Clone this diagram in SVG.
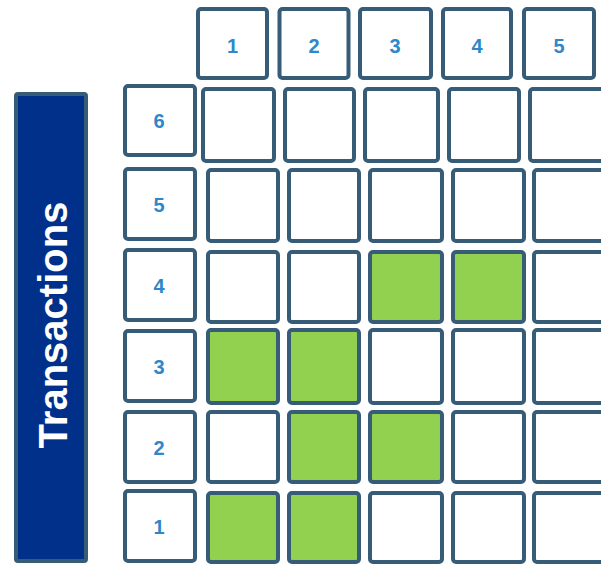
<svg xmlns="http://www.w3.org/2000/svg" width="601" height="564" viewBox="0 0 601 564">
<style>
.box{fill:#ffffff;stroke:#365C78;stroke-width:4}
.on{fill:#92D050;stroke:#365C78;stroke-width:4}
.num{font-family:"Liberation Sans",Arial,sans-serif;font-weight:bold;font-size:20px;fill:#2F87CA;text-anchor:middle}
.title{font-family:"Liberation Sans",Arial,sans-serif;font-weight:bold;font-size:40px;fill:#ffffff;text-anchor:middle}
</style>
<rect width="601" height="564" fill="#ffffff"/>
<g id="axis-bar">
<rect x="16" y="94" width="70" height="467" rx="2" fill="#00308A" stroke="#365C78" stroke-width="4"/>
<text class="title" transform="translate(67,325) rotate(-90)">Transactions</text>
</g>
<g id="header">
<g id="col-1"><rect class="box" x="198" y="9" width="69" height="69" rx="3"/><text class="num" x="232.5" y="53">1</text></g>
<g id="col-2"><rect class="box" x="279.5" y="9" width="69" height="69" rx="3"/><text class="num" x="314" y="53">2</text></g>
<g id="col-3"><rect class="box" x="360" y="9" width="71" height="69" rx="3"/><text class="num" x="395" y="53">3</text></g>
<g id="col-4"><rect class="box" x="443" y="9" width="68" height="69" rx="3"/><text class="num" x="477" y="53">4</text></g>
<g id="col-5"><rect class="box" x="524" y="9" width="70" height="69" rx="3"/><text class="num" x="559" y="53">5</text></g>
</g>
<g id="row-labels">
<g id="row-6"><rect class="box" x="125" y="86" width="70" height="69" rx="3"/><text class="num" x="159" y="128">6</text></g>
<g id="row-5"><rect class="box" x="125" y="169" width="70" height="70" rx="3"/><text class="num" x="159" y="212">5</text></g>
<g id="row-4"><rect class="box" x="125" y="250" width="70" height="70" rx="3"/><text class="num" x="159" y="293">4</text></g>
<g id="row-3"><rect class="box" x="125" y="331" width="70" height="70" rx="3"/><text class="num" x="159" y="374">3</text></g>
<g id="row-2"><rect class="box" x="125" y="412" width="70" height="70" rx="3"/><text class="num" x="159" y="455">2</text></g>
<g id="row-1"><rect class="box" x="125" y="491" width="70" height="70" rx="3"/><text class="num" x="159" y="534">1</text></g>
</g>
<g id="grid">
<g id="r6">
<rect class="box" x="203" y="89" width="71" height="72" rx="3"/>
<rect class="box" x="285" y="89" width="69" height="72" rx="3"/>
<rect class="box" x="365" y="89" width="73" height="72" rx="3"/>
<rect class="box" x="449" y="89" width="70" height="72" rx="3"/>
<rect class="box" x="530" y="89" width="75" height="72" rx="3"/>
</g>
<g id="r5">
<rect class="box" x="208" y="170" width="70" height="71" rx="3"/>
<rect class="box" x="289" y="170" width="70" height="71" rx="3"/>
<rect class="box" x="370" y="170" width="72" height="71" rx="3"/>
<rect class="box" x="453" y="170" width="71" height="71" rx="3"/>
<rect class="box" x="534" y="170" width="75" height="71" rx="3"/>
</g>
<g id="r4">
<rect class="box" x="208" y="252" width="70" height="70" rx="3"/>
<rect class="box" x="289" y="252" width="70" height="70" rx="3"/>
<rect class="on" x="370" y="252" width="72" height="70" rx="3"/>
<rect class="on" x="453" y="252" width="71" height="70" rx="3"/>
<rect class="box" x="534" y="252" width="75" height="70" rx="3"/>
</g>
<g id="r3">
<rect class="on" x="208" y="330" width="70" height="73" rx="3"/>
<rect class="on" x="289" y="330" width="70" height="73" rx="3"/>
<rect class="box" x="370" y="330" width="72" height="73" rx="3"/>
<rect class="box" x="453" y="330" width="71" height="73" rx="3"/>
<rect class="box" x="534" y="330" width="75" height="73" rx="3"/>
</g>
<g id="r2">
<rect class="box" x="208" y="412" width="70" height="70" rx="3"/>
<rect class="on" x="289" y="412" width="70" height="70" rx="3"/>
<rect class="on" x="370" y="412" width="72" height="70" rx="3"/>
<rect class="box" x="453" y="412" width="71" height="70" rx="3"/>
<rect class="box" x="534" y="412" width="75" height="70" rx="3"/>
</g>
<g id="r1">
<rect class="on" x="208" y="493" width="70" height="69" rx="3"/>
<rect class="on" x="289" y="493" width="70" height="69" rx="3"/>
<rect class="box" x="370" y="493" width="72" height="69" rx="3"/>
<rect class="box" x="453" y="493" width="71" height="69" rx="3"/>
<rect class="box" x="534" y="493" width="75" height="69" rx="3"/>
</g>
</g>
</svg>
